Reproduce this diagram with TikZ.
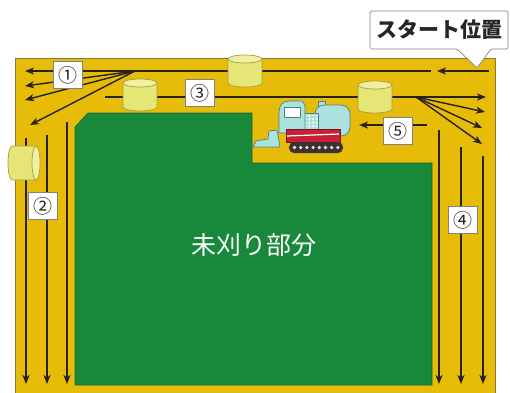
\documentclass[tikz,border=0pt]{standalone}
\usepackage{fontspec}
\newfontfamily\jp{Noto Sans CJK JP}
\usetikzlibrary{arrows.meta}
\definecolor{fieldyellow}{RGB}{230,188,8}
\definecolor{fieldedge}{RGB}{140,120,50}
\definecolor{uncut}{RGB}{24,136,58}
\definecolor{uncutedge}{RGB}{20,100,45}
\definecolor{drumbody}{RGB}{230,230,118}
\definecolor{drumtop}{RGB}{240,240,160}
\definecolor{drumedge}{RGB}{165,155,70}
\definecolor{linec}{RGB}{40,34,30}
\definecolor{boxedge}{RGB}{130,130,130}
\definecolor{machcyan}{RGB}{172,226,222}
\definecolor{machedge}{RGB}{70,130,140}
\definecolor{machred}{RGB}{200,32,52}
\definecolor{track}{RGB}{60,48,50}
\tikzset{
  route/.style={draw=linec, line width=1.4pt},
  flow/.style={route, -{Stealth[length=9pt,width=7pt,inset=2.5pt]}},
  numbox/.style={draw=boxedge, fill=white, line width=0.6pt, minimum width=29pt,
    minimum height=27pt, inner sep=0pt, font=\jp\fontsize{19}{19}\selectfont, text=linec},
  drum/.pic={
    \path[fill=drumbody, draw=drumedge, line width=0.7pt]
      (-17,-12) -- (-17,12) arc[start angle=180, end angle=0, x radius=17, y radius=4]
      -- (17,-12) -- cycle;
    \path[fill=drumtop, draw=drumedge, line width=0.7pt]
      (0,-12) ellipse[x radius=17, y radius=4];
  }
}
\begin{document}
\begin{tikzpicture}[x=1pt, y=-1pt]
\useasboundingbox (0,0) rectangle (510,392);

% field: harvested headland and the uncut block
\path[fill=fieldyellow, draw=fieldedge, line width=0.8pt] (15,58) rectangle (495,393);
\path[fill=uncut, draw=uncutedge, line width=0.6pt]
  (75,127) -- (88,113) -- (252,113) -- (252,163) -- (432,163) -- (432,385) -- (75,385) -- cycle;
\node[font=\jp\fontsize{25}{25}\selectfont, text=white] (uncutlabel) at (254,245) {未刈り部分};

% route points
\coordinate (start) at (489,71);
\coordinate (midtip) at (437,71);
\coordinate (toprest) at (431,71);
\coordinate (fanA) at (135,71);
\coordinate (endA1) at (25,71);
\coordinate (endA2) at (25,86);
\coordinate (endA3) at (25,100);
\coordinate (endA4) at (30,125);
\coordinate (rowB) at (105,97);
\coordinate (fanB) at (416,97);
\coordinate (endB1) at (486,97);
\coordinate (endB2) at (485,112);
\coordinate (endB3) at (482,128);
\coordinate (endB4) at (482,144);
\coordinate (rowC) at (427,125);
\coordinate (endC) at (359,125);
\coordinate (l1t) at (26,138);  \coordinate (l1b) at (26,384);
\coordinate (l2t) at (47,135);  \coordinate (l2b) at (47,384);
\coordinate (l3t) at (67,122);  \coordinate (l3b) at (67,384);
\coordinate (r1t) at (439,130); \coordinate (r1b) at (439,384);
\coordinate (r2t) at (461,147); \coordinate (r2b) at (461,384);
\coordinate (r3t) at (483,156); \coordinate (r3b) at (483,384);

% pass 1: along the top headland, fanning out at the corner
\draw[flow] (start) -- (midtip);
\draw[flow] (toprest) -- (endA1);
\draw[flow] (fanA) -- (endA2);
\draw[flow] (fanA) -- (endA3);
\draw[flow] (fanA) -- (endA4);
% pass 2: down the left side
\draw[flow] (l1t) -- (l1b);
\draw[flow] (l2t) -- (l2b);
\draw[flow] (l3t) -- (l3b);
% pass 3: back along the top, fanning into the right corner
\draw[flow] (rowB) -- (endB1);
\draw[flow] (fanB) -- (endB2);
\draw[flow] (fanB) -- (endB3);
\draw[flow] (fanB) -- (endB4);
% pass 4: down the right side
\draw[flow] (r1t) -- (r1b);
\draw[flow] (r2t) -- (r2b);
\draw[flow] (r3t) -- (r3b);
% pass 5
\draw[flow] (rowC) -- (endC);

% bales left on the headland
\pic (baleTop) at (245,71) {drum};
\pic (baleMid) at (140,95) {drum};
\pic (baleRight) at (375,97) {drum};
\pic[rotate=-90] (baleLeft) at (24,163) {drum};

% pass numbers
\node[numbox] (n1) at (68,75) {①};
\node[numbox] (n2) at (43,206) {②};
\node[numbox] (n3) at (200,93) {③};
\node[numbox] (n4) at (463,220) {④};
\node[numbox] (n5) at (398,131) {⑤};

% harvester
\begin{scope}[draw=machedge, line width=0.7pt, line join=round]
  \path[fill=machcyan, draw] (253,147) -- (256,141) -- (268,139) -- (269,131)
    -- (277,130) -- (280,147) -- cycle;
  \path[fill=machcyan, draw] (318,101) rectangle (325,107);
  \path[fill=machcyan, draw, rounded corners=9pt] (315,105) rectangle (350,136);
  \path[fill=machcyan, draw] (303,113) rectangle (318,131);
  \foreach \i in {0,...,3}
    \foreach \j in {0,...,4}
      \fill[white] (305.5+\i*3.8,115.5+\j*3.6) circle[radius=1.1];
  \path[fill=machcyan, draw] (279,133) -- (279,114) .. controls (279,104) and (283,101) .. (290,101)
    -- (302,101) -- (305,105) -- (305,133) -- cycle;
  \path[fill=white, draw] (284,107) rectangle (300,117);
  \path[fill=machred, draw=machred!60!black] (286,129) rectangle (340,142);
  \draw[white, line width=1.2pt] (287,136) -- (339,134);
  \path[fill=track, rounded corners=5pt] (289,142) rectangle (343,153);
  \foreach \k in {0,...,7}
    \fill[white!80!gray] (294.5+\k*6.2,147.5) circle[radius=1.8];
\end{scope}

% start position callout
\path[fill=white, draw=boxedge, line width=0.7pt, rounded corners=1.5pt]
  (370,11) -- (508,11) -- (508,49) -- (491,49) -- (477,68) -- (457,49) -- (370,49) -- cycle;
\node[font=\jp\fontsize{21}{21}\selectfont\bfseries, text=black!85] (startlabel) at (439,30) {スタート位置};
\end{tikzpicture}
\end{document}
